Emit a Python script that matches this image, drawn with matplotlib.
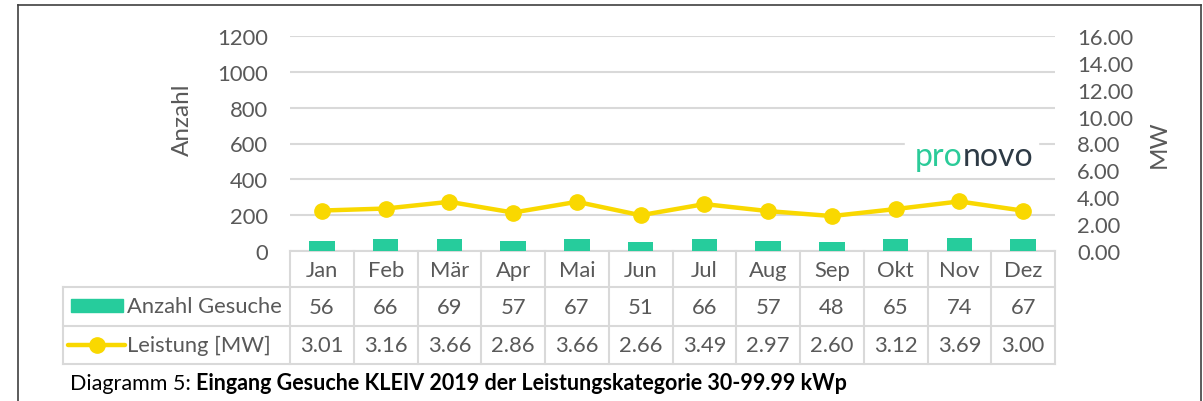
import matplotlib
matplotlib.use("Agg")
import matplotlib.pyplot as plt
import matplotlib.transforms as mtransforms
from matplotlib.lines import Line2D
from matplotlib.patches import Rectangle
from matplotlib.text import Annotation

# --------------------------------------------------
# Data
# --------------------------------------------------
months = ["Jan", "Feb", "Mär", "Apr", "Mai", "Jun",
          "Jul", "Aug", "Sep", "Okt", "Nov", "Dez"]
anzahl = [56, 66, 69, 57, 67, 51, 66, 57, 48, 65, 74, 67]
leistung = [3.01, 3.16, 3.66, 2.86, 3.66, 2.66, 3.49, 2.97, 2.60, 3.12, 3.69, 3.00]
left_ticks = [0, 200, 400, 600, 800, 1000, 1200]
right_ticks = [0, 2, 4, 6, 8, 10, 12, 14, 16]

# --------------------------------------------------
# Style
# --------------------------------------------------
GREEN = "#26CC9C"
YELLOW = "#F9D800"
GRID = "#D9D9D9"
TEXT = "#595959"
FS = 15.8
plt.rcParams["font.family"] = ["Lato", "DejaVu Sans"]

W, H = 1203, 402
fig = plt.figure(figsize=(W / 100, H / 100), dpi=100)

# plot area in pixels
PL, PR, PT, PB = 290, 1055, 37, 252
ax = fig.add_axes([PL / W, 1 - PB / H, (PR - PL) / W, (PB - PT) / H])
ax2 = ax.twinx()

x = list(range(len(months)))
ax.bar(x, anzahl, width=0.4, color=GREEN, zorder=3)
ax2.plot(x, leistung, color=YELLOW, lw=3.2, marker="o", ms=11, zorder=4)

ax.set_xlim(-0.5, len(months) - 0.5)
ax.set_ylim(0, 1200)
ax2.set_ylim(0, 16)
ax.set_yticks(left_ticks)
ax2.set_yticks(right_ticks)
ax2.set_yticklabels([f"{t:.2f}" for t in right_ticks])
ax.set_xticks([])

for a in (ax, ax2):
    for s in a.spines.values():
        s.set_visible(False)
    a.tick_params(axis="y", length=0, labelsize=FS, colors=TEXT, pad=16)
ax.yaxis.grid(True, color=GRID, lw=1.5, zorder=0)
ax.set_axisbelow(True)
ax.set_ylabel("Anzahl", fontsize=17.5, color=TEXT)
ax2.set_ylabel("MW", fontsize=17.5, color=TEXT)
ax.yaxis.set_label_coords(-0.127, 0.614)
ax2.yaxis.set_label_coords(1.1225, 0.5)

# --------------------------------------------------
# Data table below the chart
# --------------------------------------------------
def ay(py):
    return (PB - py) / (PB - PT)

def axx(px):
    return (px - PL) / (PR - PL)

trans = mtransforms.blended_transform_factory(ax.transData, ax.transAxes)
rows_px = [252, 288, 327, 365]
TL = 63
line_kw = dict(color=GRID, lw=1.5, clip_on=False, zorder=1)

for py in rows_px:
    x0 = axx(PL) if py == rows_px[0] else axx(TL)
    ax.add_line(Line2D([x0, 1], [ay(py), ay(py)], transform=ax.transAxes, **line_kw))
for i in range(len(months) + 1):
    xb = i - 0.5
    ax.add_line(Line2D([xb, xb], [ay(rows_px[0]), ay(rows_px[-1])], transform=trans, **line_kw))
ax.add_line(Line2D([axx(TL), axx(TL)], [ay(rows_px[1]), ay(rows_px[-1])],
                   transform=ax.transAxes, **line_kw))

cell_kw = dict(transform=trans, ha="center", va="center", fontsize=FS,
               color=TEXT, clip_on=False)
for i, m in enumerate(months):
    ax.text(i, ay((rows_px[0] + rows_px[1]) / 2 + 1), m, **cell_kw)
    ax.text(i, ay((rows_px[1] + rows_px[2]) / 2), f"{anzahl[i]}", **cell_kw)
    ax.text(i, ay((rows_px[2] + rows_px[3]) / 2), f"{leistung[i]:.2f}", **cell_kw)

# legend keys in the table
ax.add_patch(Rectangle((axx(71), ay(313)), axx(123) - axx(71), ay(300) - ay(313),
                       transform=ax.transAxes, color=GREEN, clip_on=False))
ax.add_line(Line2D([axx(68), axx(125)], [ay(346), ay(346)], transform=ax.transAxes,
                   color=YELLOW, lw=3.2, clip_on=False, solid_capstyle="round"))
ax.add_line(Line2D([axx(96.5)], [ay(346)], transform=ax.transAxes, color=YELLOW,
                   marker="o", ms=11, clip_on=False))
lab_kw = dict(transform=ax.transAxes, ha="left", va="center", fontsize=FS,
              color=TEXT, clip_on=False)
ax.text(axx(127), ay(307), "Anzahl Gesuche", **lab_kw)
ax.text(axx(127), ay(346), "Leistung [MW]", **lab_kw)

# --------------------------------------------------
# Logo
# --------------------------------------------------
fig.patches.append(Rectangle((905 / W, 1 - 177 / H), 133 / W, 38 / H,
                             transform=fig.transFigure, color="white", zorder=2))
t_pro = fig.text(915 / W, 1 - 166 / H, "pro", fontsize=23, color="#2BCB99",
                 va="baseline", ha="left", zorder=3)
fig.add_artist(Annotation("novo", xy=(1, 0), xycoords=t_pro, va="bottom", ha="left",
                          fontsize=23, color="#2D3A45", zorder=3))

# --------------------------------------------------
# Caption and frame
# --------------------------------------------------
cap = fig.text(70 / W, 1 - 384 / H, "Diagramm 5: ", fontsize=15.5, color="black",
               va="center", ha="left")
fig.add_artist(Annotation("Eingang Gesuche KLEIV 2019 der Leistungskategorie 30-99.99 kWp",
                          xy=(1, 0.5), xycoords=cap, va="center", ha="left",
                          fontsize=15.5, fontweight="bold", color="black"))

frame_kw = dict(color="#404040", lw=1.2, transform=fig.transFigure)
fig.add_artist(Line2D([18 / W, 18 / W], [0, 1 - 6 / H], **frame_kw))
fig.add_artist(Line2D([18 / W, 1201 / W], [1 - 6 / H, 1 - 6 / H], **frame_kw))
fig.add_artist(Line2D([1201 / W, 1201 / W], [0, 1 - 6 / H], **frame_kw))

fig.savefig("out.png", dpi=100)
plt.close(fig)
